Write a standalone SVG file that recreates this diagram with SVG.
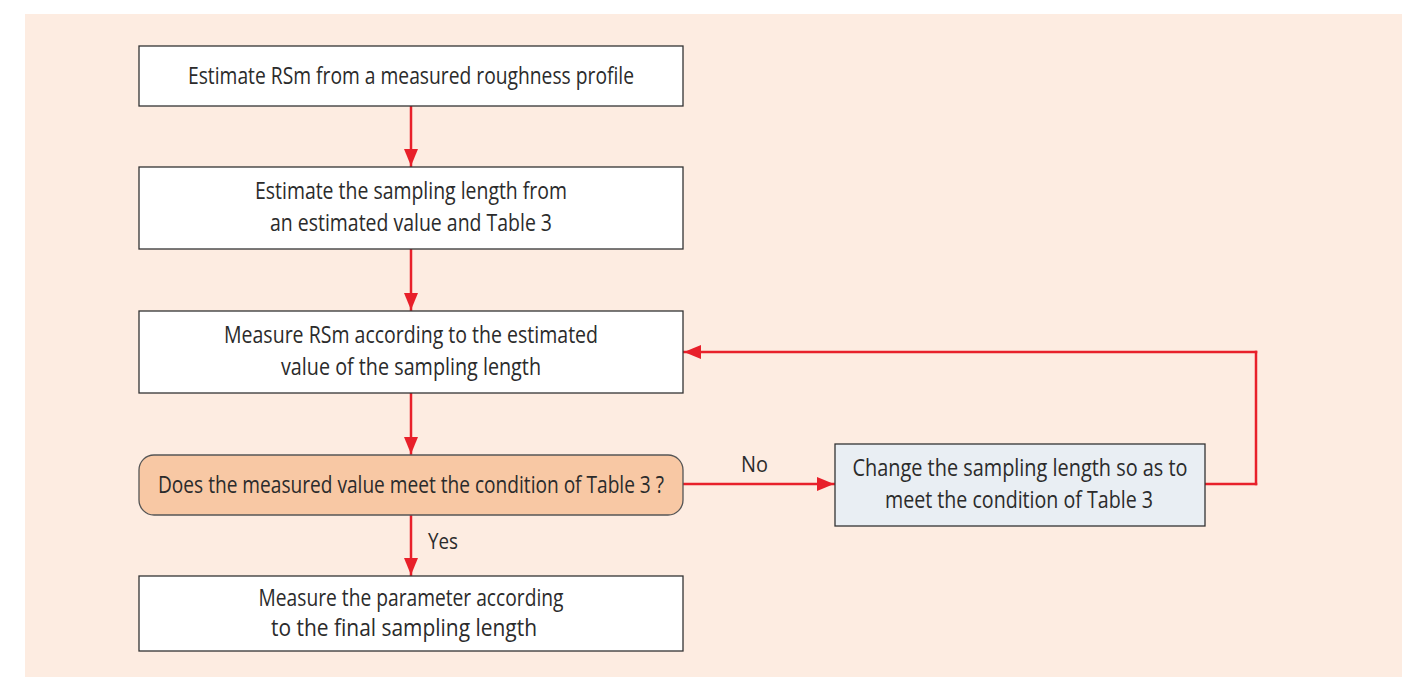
<svg xmlns="http://www.w3.org/2000/svg" width="1404" height="677" viewBox="0 0 1404 677">
<style>
.box{fill:#ffffff;stroke:#333333;stroke-width:1.3}
.dec{fill:#f8c8a4;stroke:#555555;stroke-width:1.3}
.chg{fill:#e9eef3;stroke:#333333;stroke-width:1.3}
.t{font-family:"Open Sans","Liberation Sans",sans-serif;font-size:23px;fill:#2b2b2b;text-anchor:middle}
.lab{font-family:"Open Sans","Liberation Sans",sans-serif;font-size:22px;fill:#2b2b2b}
.c{fill:none;stroke:#e8202a;stroke-width:2.5;stroke-linecap:square}
</style>
<defs>
<marker id="ah" markerUnits="userSpaceOnUse" markerWidth="18" markerHeight="14" refX="17" refY="7" orient="auto">
<path d="M0,0 L17,7 L0,14 Z" fill="#e8202a"/>
</marker>
</defs>
<rect x="25" y="14" width="1377" height="663" fill="#fdece1"/>
<g id="connectors">
<line class="c" x1="411" y1="107" x2="411" y2="166" marker-end="url(#ah)"/>
<line class="c" x1="411" y1="250" x2="411" y2="310" marker-end="url(#ah)"/>
<line class="c" x1="411" y1="394" x2="411" y2="454" marker-end="url(#ah)"/>
<line class="c" x1="411" y1="516" x2="411" y2="575" marker-end="url(#ah)"/>
<line class="c" x1="684" y1="484" x2="834" y2="484" marker-end="url(#ah)"/>
<line class="c" x1="1206" y1="484" x2="1256" y2="484"/>
<line class="c" x1="1256" y1="484" x2="1256" y2="352"/>
<line class="c" x1="1256" y1="352" x2="684" y2="352" marker-end="url(#ah)"/>
<text class="lab" x="741" y="472" textLength="27" lengthAdjust="spacingAndGlyphs">No</text>
<text class="lab" x="428" y="549" textLength="30" lengthAdjust="spacingAndGlyphs">Yes</text>
</g>
<g id="n1">
<rect class="box" x="139" y="46" width="544" height="60"/>
<text class="t" x="411" y="84" textLength="446" lengthAdjust="spacingAndGlyphs">Estimate RSm from a measured roughness profile</text>
</g>
<g id="n2">
<rect class="box" x="139" y="167" width="544" height="82"/>
<text class="t" x="411" y="199" textLength="312" lengthAdjust="spacingAndGlyphs">Estimate the sampling length from</text>
<text class="t" x="411" y="231" textLength="282" lengthAdjust="spacingAndGlyphs">an estimated value and Table 3</text>
</g>
<g id="n3">
<rect class="box" x="139" y="311" width="544" height="82"/>
<text class="t" x="411" y="343" textLength="374" lengthAdjust="spacingAndGlyphs">Measure RSm according to the estimated</text>
<text class="t" x="411" y="375" textLength="260" lengthAdjust="spacingAndGlyphs">value of the sampling length</text>
</g>
<g id="n4">
<rect class="dec" x="139" y="455" width="544" height="60" rx="15" ry="15"/>
<text class="t" x="411" y="493" textLength="506" lengthAdjust="spacingAndGlyphs">Does the measured value meet the condition of Table 3 ?</text>
</g>
<g id="n5">
<rect class="box" x="139" y="576" width="544" height="75"/>
<text class="t" x="411" y="606" textLength="305" lengthAdjust="spacingAndGlyphs">Measure the parameter according</text>
<text class="t" x="404" y="636" textLength="266" lengthAdjust="spacingAndGlyphs">to the final sampling length</text>
</g>
<g id="n6">
<rect class="chg" x="835" y="444" width="370" height="82"/>
<text class="t" x="1020" y="476" textLength="335" lengthAdjust="spacingAndGlyphs">Change the sampling length so as to</text>
<text class="t" x="1019" y="508" textLength="268" lengthAdjust="spacingAndGlyphs">meet the condition of Table 3</text>
</g>
</svg>
